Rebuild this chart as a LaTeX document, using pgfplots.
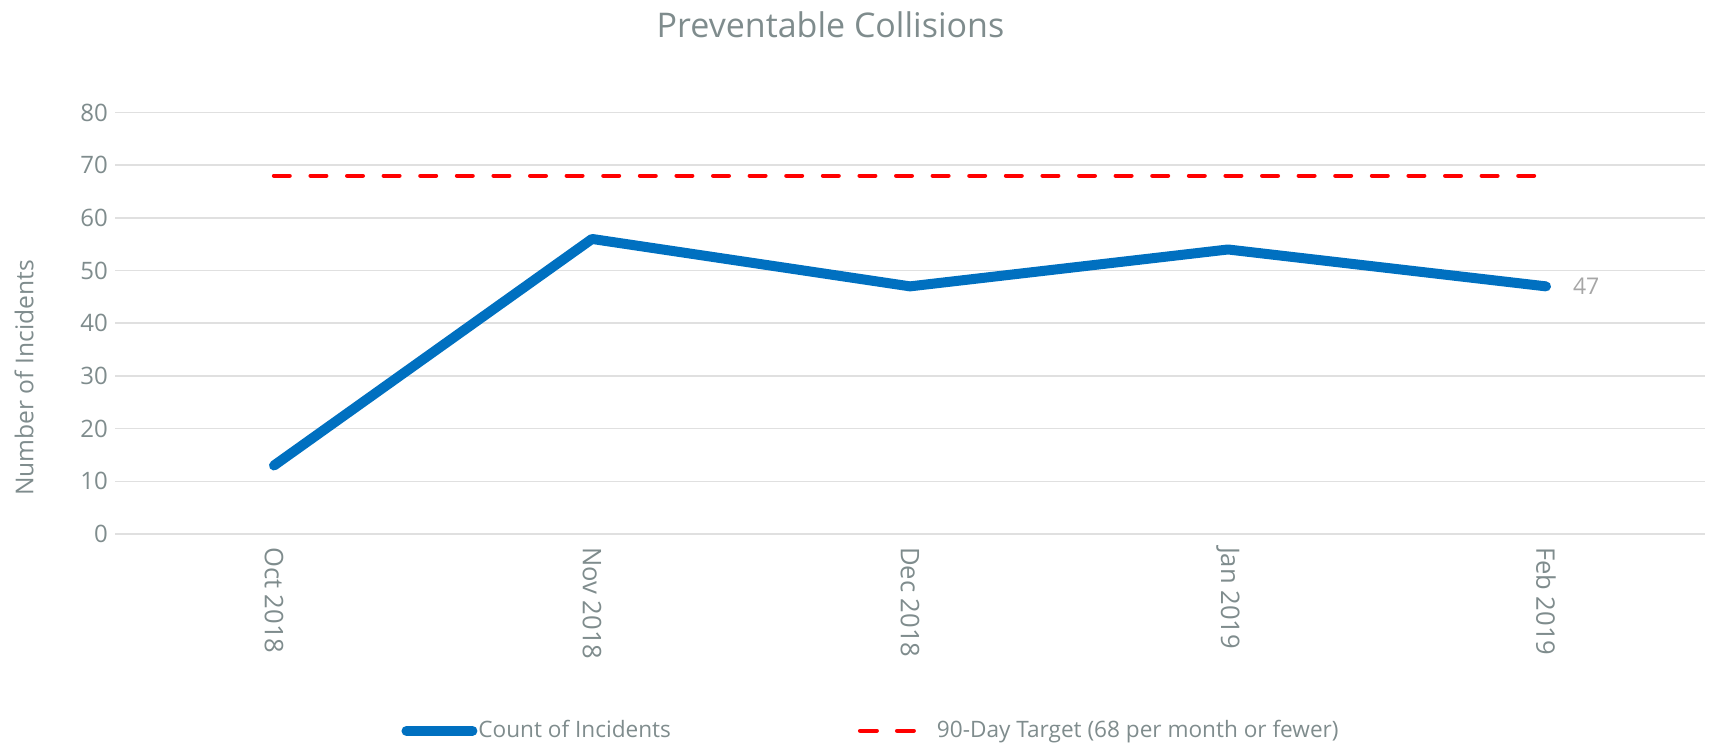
\documentclass[border=0pt]{standalone}
\usepackage{pgfplots}
\pgfplotsset{compat=1.18}
\usepackage{fontspec}
\setmainfont{Open Sans}
\definecolor{txtgray}{HTML}{7F8C8D}
\definecolor{lblgray}{HTML}{A6A6A6}
\definecolor{gridgray}{HTML}{E0E0E0}
\definecolor{lineblue}{HTML}{0070C0}
\begin{document}
\begin{tikzpicture}
\begin{axis}[
  scale only axis,
  width=795pt, height=210.75pt,
  xmin=-0.5, xmax=4.5,
  ymin=0, ymax=80,
  ytick={0,10,...,80},
  xtick={0,1,2,3,4},
  xticklabels={Oct 2018,Nov 2018,Dec 2018,Jan 2019,Feb 2019},
  xticklabel style={rotate=-90, anchor=west, font=\fontsize{12.8}{15}\selectfont, text=txtgray, xshift=3pt},
  yticklabel style={font=\fontsize{12}{14}\selectfont, text=txtgray, xshift=0pt},
  /pgf/number format/assume math mode=true,
  major tick length=0pt,
  axis line style={draw=none},
  ymajorgrids,
  grid style={gridgray, line width=0.8pt},
  title={Preventable Collisions},
  title style={at={(axis description cs:0.45,1)}, anchor=center, yshift=38pt, font=\fontsize{17}{20}\selectfont, text=txtgray},
  ylabel={Number of Incidents},
  ylabel style={at={(axis description cs:-0.0572,0.37)}, anchor=center, font=\fontsize{12.3}{14}\selectfont, text=txtgray},
  legend style={at={(axis description cs:0.1799,-0.467)}, anchor=west, draw=none, fill=none,
    inner xsep=0pt, nodes={inner xsep=0.5pt},
    font=\fontsize{11.3}{13}\selectfont, text=txtgray, legend columns=2,
    /tikz/every even column/.append style={column sep=93pt}},
  legend cell align=left,
  clip=false,
]
\addplot[lineblue, line width=5pt, line cap=round, line join=round,
  legend image code/.code={\draw[lineblue, solid, line width=5pt, line cap=round] (2.5pt,0pt) -- (35.5pt,0pt);}]
  coordinates {(0,13) (1,56) (2,47) (3,54) (4,47)};
\addlegendentry{Count of Incidents}
\addplot[red, line width=2.2pt, line cap=round, dash pattern=on 7.8pt off 10.5pt,
  legend image code/.code={\draw[red, solid, line width=2.2pt, line cap=round] (1.1pt,0pt) -- (9.4pt,0pt) (19.6pt,0pt) -- (27.9pt,0pt); \path[draw=none] (0pt,0pt) -- (39pt,0pt);}]
  coordinates {(0,68) (1,68) (2,68) (3,68) (4,68)};
\addlegendentry{90-Day Target (68 per month or fewer)}
\node[anchor=west, text=lblgray, font=\fontsize{11.5}{13}\selectfont, xshift=10pt] at (axis cs:4,47) {47};
\coordinate (bl) at (axis description cs:0,0);
\end{axis}
\pgfresetboundingbox
\path (bl) ++(-57.5pt,-106.5pt) rectangle ++(856pt,373.5pt);
\end{tikzpicture}
\end{document}
